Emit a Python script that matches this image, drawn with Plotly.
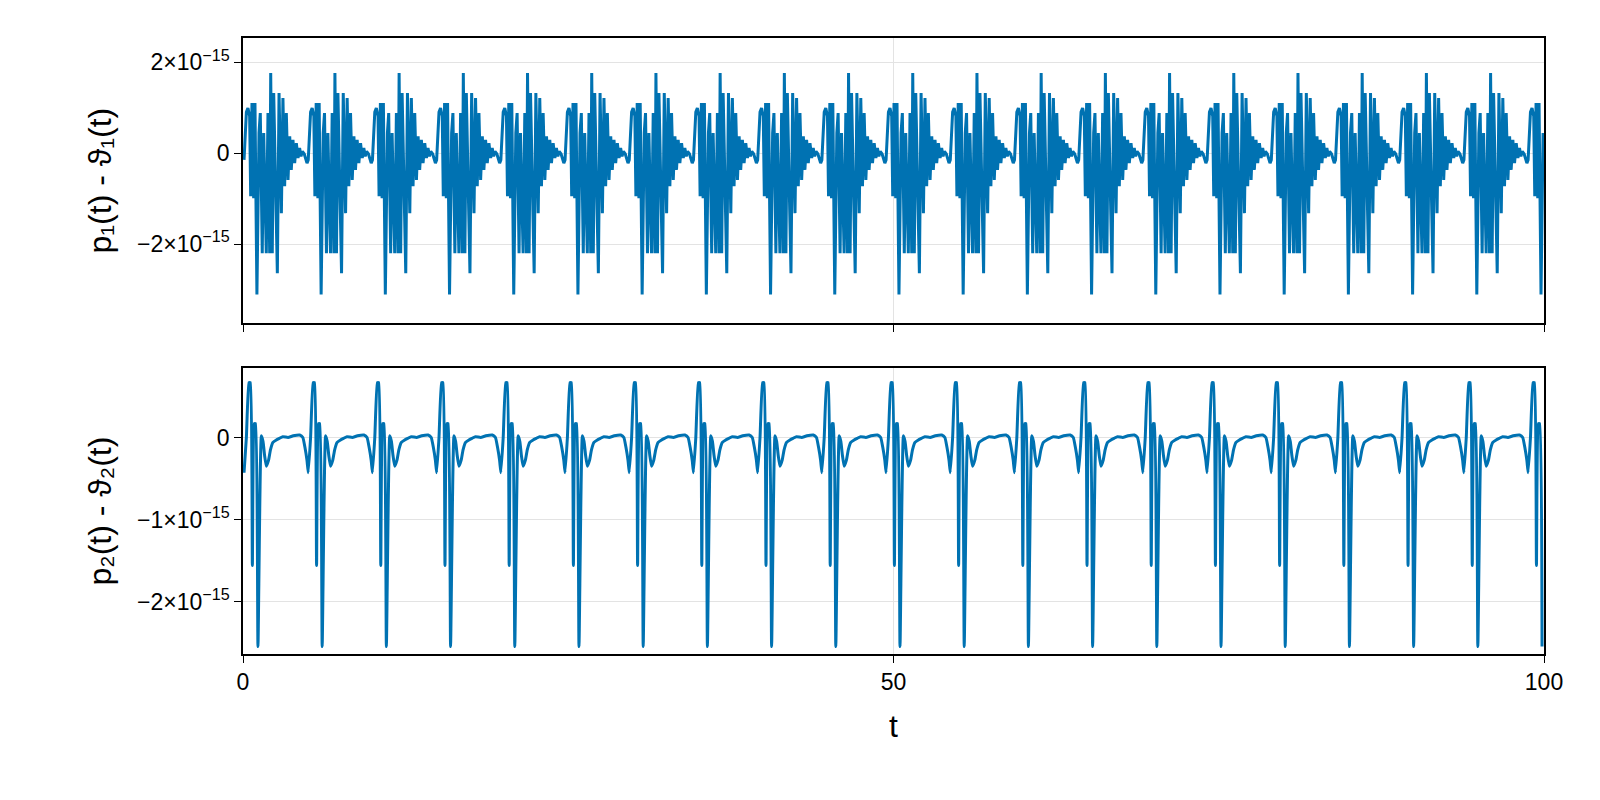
import numpy as np
import plotly.graph_objects as go
from plotly.subplots import make_subplots

# one-cycle shapes (offset from the spike, value in 1e-15)
period = 4.935
first_spike = 0.46
top_offsets = [-0.38,-0.2,-0.08,0.05,0.13,0.23,0.36,0.46,0.61,0.77,0.87,1.02,1.13,1.26,1.33,1.46,1.59,1.67,1.79,1.9,2.05,2.18,2.31,2.49,2.61,2.74,2.87,3.0,3.13,3.25,3.38,3.51,3.64,3.77,3.89,4.0,4.1,4.25,4.46]
top_values = [-0.15,0.9,0.99,0.81,-0.95,1.1,-0.99,1.1,-3.11,0.44,0.88,-2.2,0.44,-1.32,-2.2,0.88,-2.2,1.76,-2.2,1.32,-1.32,-2.64,1.32,-1.32,1.21,-0.73,0.88,-0.59,0.37,-0.37,0.29,-0.22,0.22,-0.11,0.11,-0.07,0.04,-0.02,-0.22]
bot_offsets = [-0.38,-0.2,0.0,0.1,0.26,0.41,0.5,0.69,0.95,1.08,1.2,1.33,1.5,1.65,1.84,2.1,2.34,2.6,3.0,3.4,3.9,4.14,4.3,4.46]
bot_values = [-0.43,0.0,0.67,0.67,-1.56,0.17,0.17,-2.55,0.02,-0.05,-0.22,-0.35,-0.28,-0.15,-0.06,-0.03,-0.01,0.01,0.0,0.02,0.03,0.0,-0.12,-0.28]

def tile(offs, vals):
    t, y = [], []
    for k in range(-1, 22):
        c = first_spike + k * period
        for o, v in zip(offs, vals):
            tt = c + o
            if 0 <= tt <= 100:
                t.append(tt); y.append(v * 1e-15)
    return t, y

t1, y1 = tile(top_offsets, top_values)
t2, y2 = tile(bot_offsets, bot_values)

col = "#0072B2"
fig = make_subplots(rows=2, cols=1, shared_xaxes=True, vertical_spacing=0.07)
fig.add_trace(go.Scatter(x=t1, y=y1, mode="lines", line=dict(color=col, width=3)), 1, 1)
fig.add_trace(go.Scatter(x=t2, y=y2, mode="lines", line=dict(color=col, width=3, shape="spline", smoothing=0.4)), 2, 1)

ax = dict(showline=True, linecolor="black", linewidth=1.5, mirror=True, ticks="outside",
          ticklen=7, tickcolor="black", showgrid=True, gridcolor="#e3e3e3", zeroline=False,
          tickfont=dict(size=23, color="black"))
fig.update_xaxes(**ax, range=[0, 100], tickvals=[0, 50, 100])
fig.update_xaxes(showticklabels=False, row=1, col=1)
fig.update_xaxes(title=dict(text="t", font=dict(size=32), standoff=20), row=2, col=1)
fig.update_yaxes(**ax)
fig.update_yaxes(range=[-3.74e-15, 2.53e-15], tickvals=[-2e-15, 0, 2e-15],
                 ticktext=["−2×10<sup>−15</sup>", "0", "2×10<sup>−15</sup>"],
                 title=dict(text="p₁(t) - ϑ₁(t)", font=dict(size=32), standoff=16), row=1, col=1)
fig.update_yaxes(range=[-2.64e-15, 0.845e-15], tickvals=[-2e-15, -1e-15, 0],
                 ticktext=["−2×10<sup>−15</sup>", "−1×10<sup>−15</sup>", "0"],
                 title=dict(text="p₂(t) - ϑ₂(t)", font=dict(size=32), standoff=16), row=2, col=1)
fig.update_layout(width=1600, height=800, showlegend=False, plot_bgcolor="white",
                  paper_bgcolor="white", font=dict(family="Liberation Sans, Arial", color="black"),
                  margin=dict(l=235, r=64, t=30, b=154))
fig.update_yaxes(domain=[0.537, 1.0], row=1, col=1)
fig.update_yaxes(domain=[0.0, 0.464], row=2, col=1)
fig.write_html("out.html")
